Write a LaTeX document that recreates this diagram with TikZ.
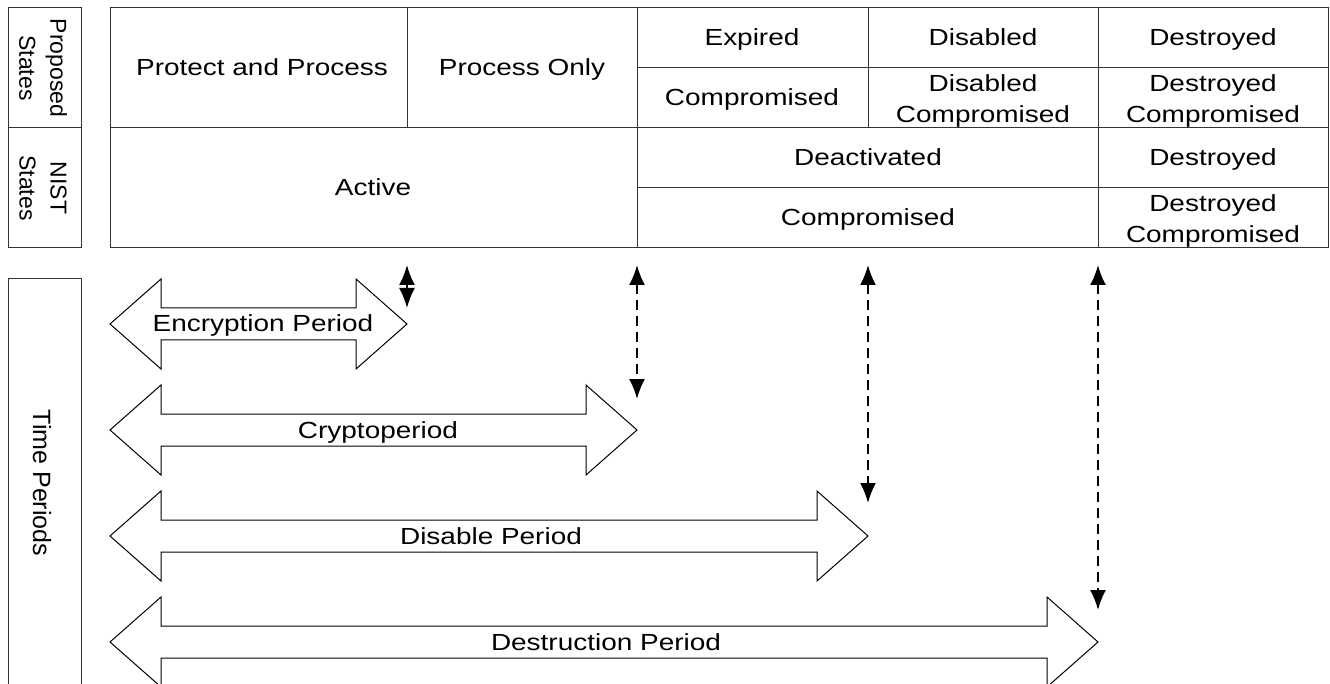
\documentclass[tikz,border=0pt]{standalone}
\usepackage{fontspec}
\setmainfont[FakeStretch=1.2]{Liberation Sans}
\newfontfamily\sidefont{Liberation Sans}
\usetikzlibrary{arrows.meta}

\tikzset{
	cell/.style={font=\fontsize{23.3}{31}\selectfont, align=center, inner sep=0pt},
	onecell/.style={cell, text height=16pt, text depth=0pt},
	side/.style={font=\sidefont\fontsize{23}{31}\selectfont, align=center, rotate=-90, inner sep=0pt},
	grid/.style={line width=1pt, black!80},
	period/.style={line width=1pt},
	limit/.style={line width=2pt, dash pattern=on 10pt off 6pt, {Latex[length=20pt,width=16pt]}-{Latex[length=20pt,width=16pt]}},
}

\begin{document}
\begin{tikzpicture}[x=1pt,y=-1pt]
			\useasboundingbox (0,0) rectangle (1330,684);
			
			% side labels
			\draw[grid] (8,8) rectangle (81,128);
			\draw[grid] (8,128) rectangle (81,248);
			\draw[grid] (8,684) -- (8,279) -- (81,279) -- (81,684);
			\node[side] (propLbl) at (43,68) {Proposed\\States};
			\node[side] (nistLbl) at (43,188) {NIST\\States};
			\node[side, font=\sidefont\fontsize{25}{30}\selectfont] (timeLbl) at (42,483) {Time Periods};
			
			% state table
			\draw[grid] (110,8) rectangle (1328,248);
			\draw[grid] (110,128) -- (1328,128);
			\draw[grid] (637,68) -- (1328,68);
			\draw[grid] (637,188) -- (1328,188);
			\draw[grid] (407,8) -- (407,128);
			\draw[grid] (637,8) -- (637,248);
			\draw[grid] (868,8) -- (868,128);
			\draw[grid] (1098,8) -- (1098,248);
			
			\node[onecell] (protect) at (262,68) {Protect and Process};
			\node[onecell] (procOnly) at (522,68) {Process Only};
			\node[onecell] (expired) at (752,38) {Expired};
			\node[onecell] (disabled) at (983,38) {Disabled};
			\node[onecell] (destroyed) at (1213,38) {Destroyed};
			\node[onecell] (comp) at (752,98) {Compromised};
			\node[cell] (disComp) at (983,100.5) {Disabled\\Compromised};
			\node[cell] (desComp) at (1213,100.5) {Destroyed\\Compromised};
			\node[onecell] (active) at (373,188) {Active};
			\node[onecell] (deact) at (868,158) {Deactivated};
			\node[onecell] (nistDes) at (1213,158) {Destroyed};
			\node[onecell] (nistComp) at (868,218) {Compromised};
			\node[cell] (nistDesComp) at (1213,220.5) {Destroyed\\Compromised};
			
			% time periods
			\draw[period] (110,324) -- ++(51,-45) -- ++(0,29) -- ++(195,0) -- ++(0,-29) -- ++(51,45) -- ++(-51,45) -- ++(0,-29) -- ++(-195,0) -- ++(0,29) -- cycle;
			\draw[period] (110,430) -- ++(51,-45) -- ++(0,29) -- ++(425,0) -- ++(0,-29) -- ++(51,45) -- ++(-51,45) -- ++(0,-29) -- ++(-425,0) -- ++(0,29) -- cycle;
			\draw[period] (110,536) -- ++(51,-45) -- ++(0,29) -- ++(656,0) -- ++(0,-29) -- ++(51,45) -- ++(-51,45) -- ++(0,-29) -- ++(-656,0) -- ++(0,29) -- cycle;
			\draw[period] (110,642) -- ++(51,-45) -- ++(0,29) -- ++(886,0) -- ++(0,-29) -- ++(51,45) -- ++(-51,45) -- ++(0,-29) -- ++(-886,0) -- ++(0,29) -- cycle;
			
			\node[onecell] (encPeriod) at (263,324) {Encryption Period};
			\node[onecell] (cryptoPeriod) at (378,430) {Cryptoperiod};
			\node[onecell] (disPeriod) at (491,536) {Disable Period};
			\node[onecell] (desPeriod) at (606,642) {Destruction Period};
			
			% period limits
			\coordinate (encTop) at (407,265);
			\coordinate (encBot) at (407,308);
			\coordinate (cryTop) at (637,265);
			\coordinate (cryBot) at (637,399);
			\coordinate (disTop) at (868,265);
			\coordinate (disBot) at (868,503);
			\coordinate (desTop) at (1098,265);
			\coordinate (desBot) at (1098,610);
			\draw[limit] (encTop) -- (encBot);
			\draw[limit] (cryTop) -- (cryBot);
			\draw[limit] (disTop) -- (disBot);
			\draw[limit] (desTop) -- (desBot);
		\end{tikzpicture}
\end{document}
